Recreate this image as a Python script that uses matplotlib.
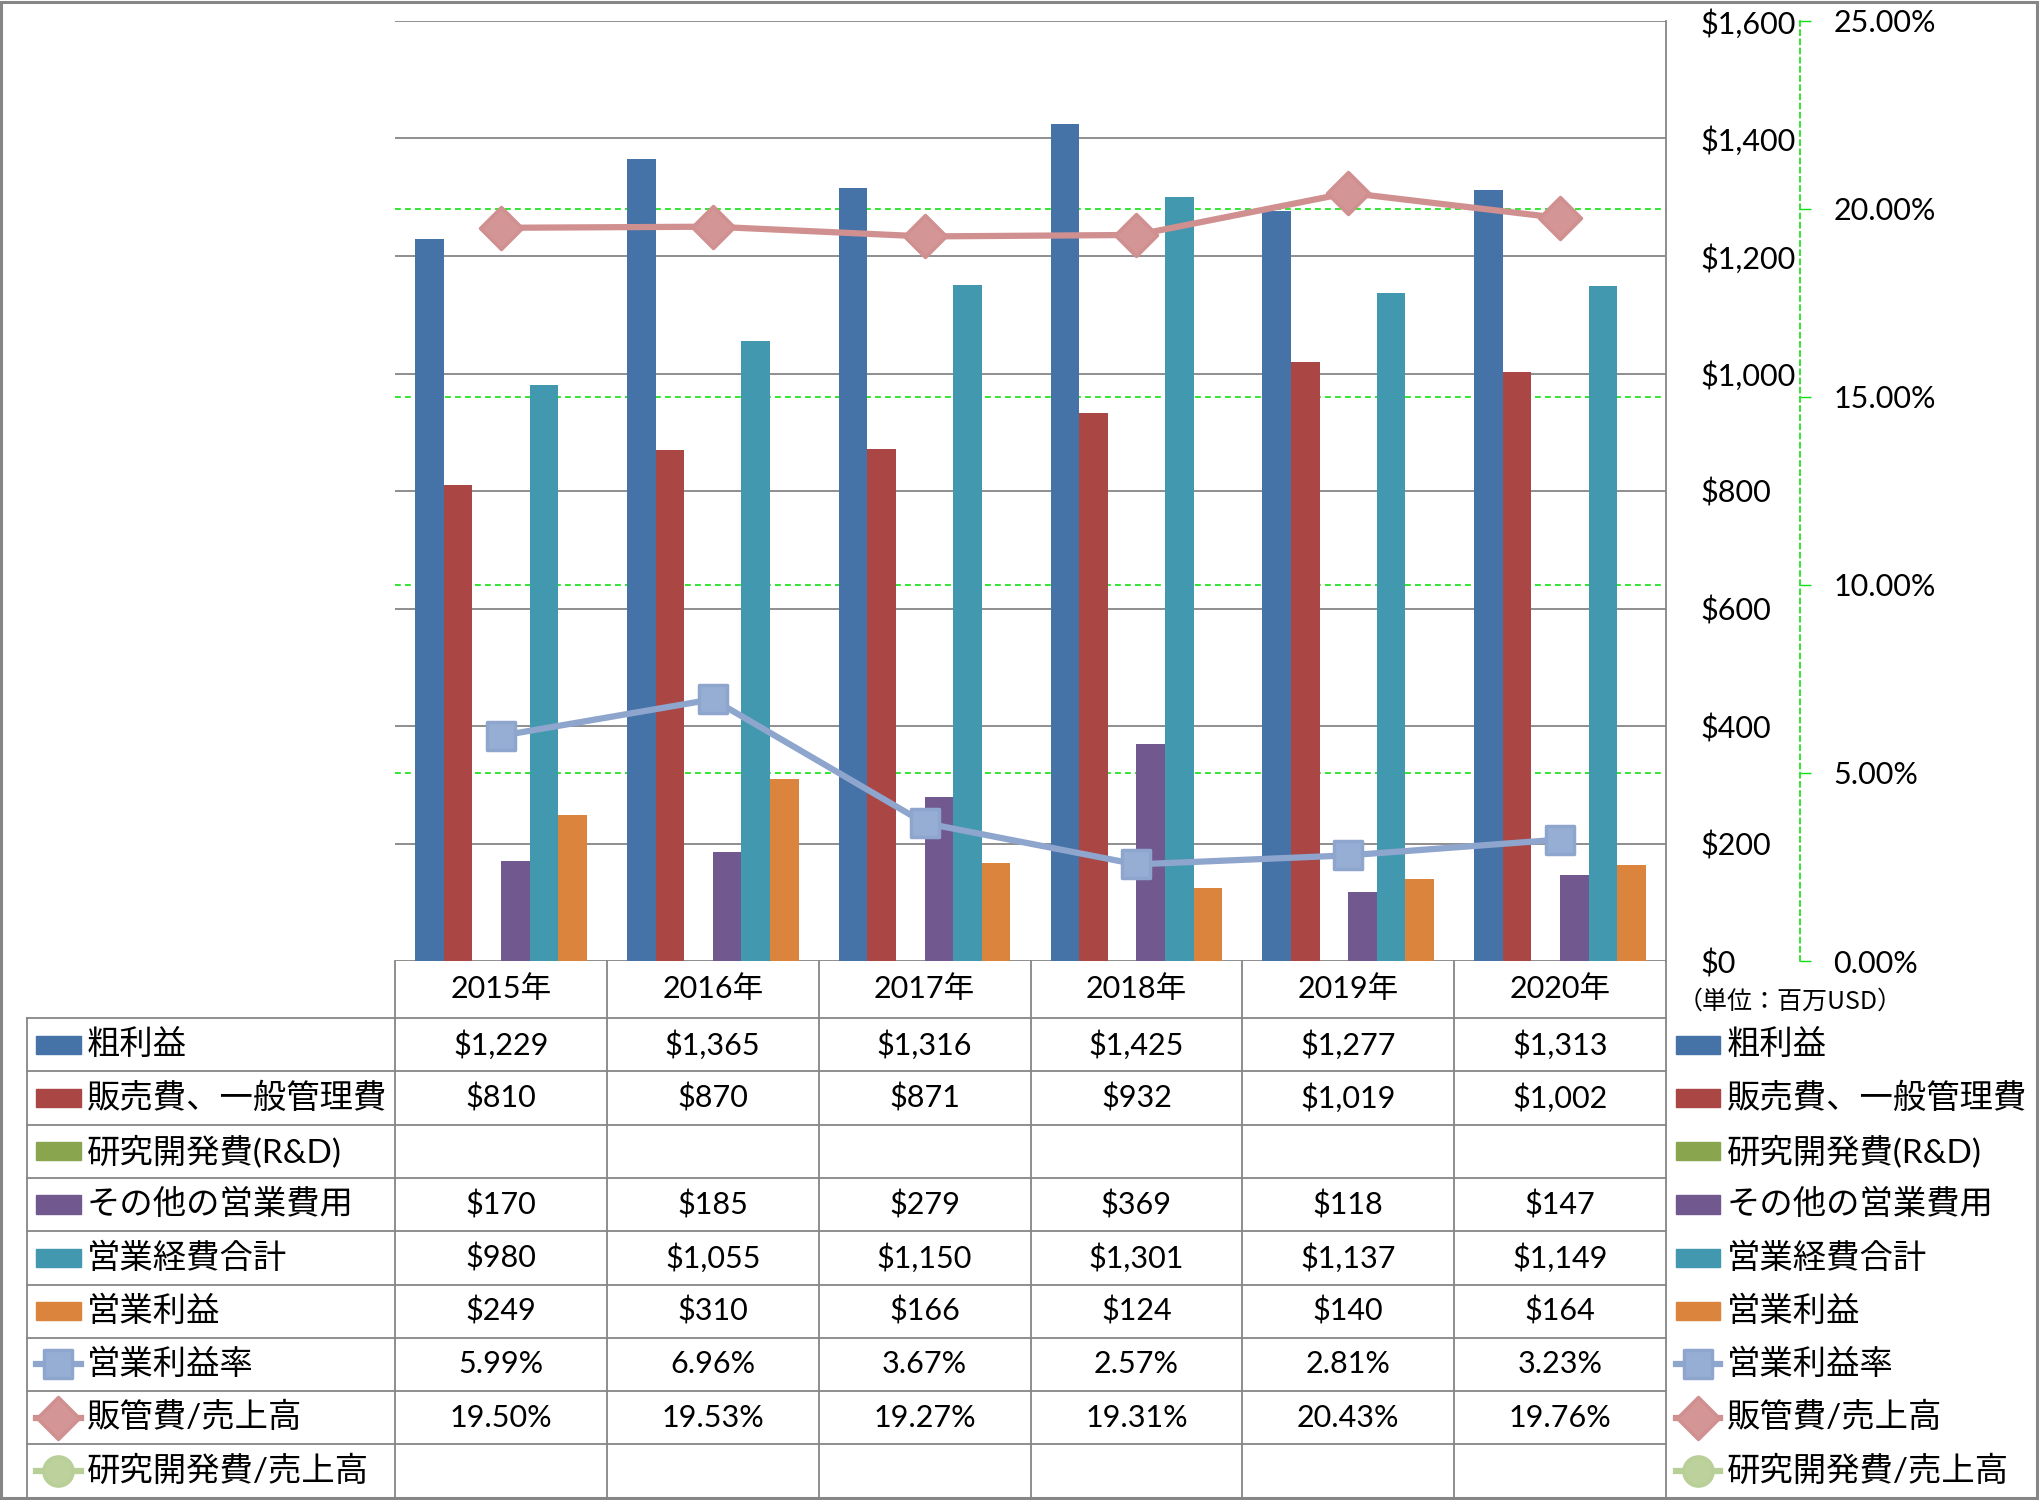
import matplotlib
matplotlib.use("Agg")
import matplotlib.pyplot as plt
from matplotlib.patches import Rectangle
from matplotlib.markers import MarkerStyle
from matplotlib.transforms import blended_transform_factory
import numpy as np

plt.rcParams['font.family'] = ['Lato', 'Noto Sans CJK JP']

# data (百万USD)
years = ['2015年', '2016年', '2017年', '2018年', '2019年', '2020年']
gross_profit = [1229, 1365, 1316, 1425, 1277, 1313]
sga = [810, 870, 871, 932, 1019, 1002]
rnd = [None, None, None, None, None, None]
other_opex = [170, 185, 279, 369, 118, 147]
total_opex = [980, 1055, 1150, 1301, 1137, 1149]
op_income = [249, 310, 166, 124, 140, 164]
op_margin = [5.99, 6.96, 3.67, 2.57, 2.81, 3.23]
sga_ratio = [19.50, 19.53, 19.27, 19.31, 20.43, 19.76]
rnd_ratio = [None, None, None, None, None, None]

bar_names = ['粗利益', '販売費、一般管理費', '研究開発費(R&D)', 'その他の営業費用', '営業経費合計', '営業利益']
line_names = ['営業利益率', '販管費/売上高', '研究開発費/売上高']
usd_ticks = [0, 200, 400, 600, 800, 1000, 1200, 1400, 1600]
usd_labels = ['$0', '$200', '$400', '$600', '$800', '$1,000', '$1,200', '$1,400', '$1,600']
pct_ticks = [0, 5, 10, 15, 20, 25]
pct_labels = ['0.00%', '5.00%', '10.00%', '15.00%', '20.00%', '25.00%']
unit_note = '（単位：百万USD）'

bar_colors = ['#4572A7', '#AA4643', '#89A54E', '#71588F', '#4198AF', '#DB843D']
line_colors = ['#8EA5CD', '#D09090', '#B9CF98']
line_fills = ['#97AED4', '#D39595', '#BCD19C']
line_markers = ['s', 'D', 'o']
grid_gray = '#868686'
green = '#11E011'

W, H = 2039, 1500
L, R, T, B = 395, 1666, 21, 961
fig = plt.figure(figsize=(W / 100, H / 100), dpi=100)

ax = fig.add_axes([L / W, 1 - B / H, (R - L) / W, (B - T) / H])
ax2 = ax.twinx()

idx = np.arange(len(years))
bw = 0.135
bar_series = [gross_profit, sga, rnd, other_opex, total_opex, op_income]
for k, vals in enumerate(bar_series):
    if all(v is None for v in vals):
        continue
    ax.bar(idx + (k - 2.5) * bw, vals, width=bw, color=bar_colors[k], zorder=2)

ax.set_xlim(-0.5, 5.5)
ax.set_ylim(0, 1600)
ax.set_yticks(usd_ticks, usd_labels)
ax.set_xticks([])
ax.yaxis.tick_right()
ax.tick_params(axis='y', length=0, pad=24.5, labelsize=22)
ax.grid(axis='y', color=grid_gray, lw=1.3)
ax.set_axisbelow(True)
for s in ['left', 'top', 'bottom']:
    ax.spines[s].set_visible(False)
ax.spines['right'].set_color(grid_gray)
ax.spines['right'].set_linewidth(1.3)

# secondary axis grid (green dashed) behind the bars
tr = blended_transform_factory(ax.transAxes, ax2.transData)
for p in pct_ticks[1:-1]:
    ax.plot([0, 1], [p, p], transform=tr, color=green, lw=1.2,
            dashes=(3.5, 2.5), zorder=1)

ax2.set_ylim(0, 25)
ax2.set_yticks(pct_ticks, pct_labels)
ax2.tick_params(axis='y', length=8, width=1, color=green, pad=16, labelsize=22)
for s in ['left', 'top', 'bottom']:
    ax2.spines[s].set_visible(False)
ax2.spines['right'].set_position(('outward', 96.5))
ax2.spines['right'].set_color(green)
ax2.spines['right'].set_linewidth(1.2)
ax2.spines['right'].set_linestyle((0, (3, 2.5)))

line_series = [op_margin, sga_ratio, rnd_ratio]
for k, vals in enumerate(line_series):
    if all(v is None for v in vals):
        continue
    ms = 20 if line_markers[k] == 's' else 21
    ax2.plot(idx, vals, color=line_colors[k], lw=4.5,
             marker=MarkerStyle(line_markers[k], joinstyle='round'), ms=ms,
             mfc=line_fills[k], mec=line_colors[k], mew=2.5, zorder=3)

# data table below the plot (y in row units, header row a bit taller)
row_h = 53.3
head = 57 / row_h
tax = fig.add_axes([L / W, 0, (R - L) / W, (H - B) / H])
tax.set_xlim(-0.5, 5.5)
tax.set_ylim((H - B) / row_h, 0)
tax.axis('off')
x_left = -0.5 - (L - 27) / 211.8
n_rows = 9

for r in range(n_rows + 1):
    tax.plot([x_left, 5.5], [head + r, head + r], color=grid_gray, lw=1.3, clip_on=False)
for c in np.arange(-0.5, 6.0, 1.0):
    tax.plot([c, c], [0, head + n_rows], color=grid_gray, lw=1.3, clip_on=False)
tax.plot([x_left, x_left], [head, head + n_rows], color=grid_gray, lw=1.3, clip_on=False)

for i, y in enumerate(years):
    tax.text(i, head / 2, y, ha='center', va='center', fontsize=22)

rows = bar_series + line_series
names = bar_names + line_names
colors = bar_colors + line_colors
for r, (name, vals) in enumerate(zip(names, rows)):
    yc = head + r + 0.5
    is_line = r >= len(bar_names)
    for i, v in enumerate(vals):
        if v is None:
            continue
        s = f'{v:.2f}%' if is_line else f'${v:,}'
        tax.text(i, yc, s, ha='center', va='center', fontsize=22)
    # left and right legend keys
    for x0, x1, xt in [(-0.5 - (L - 36) / 211.8, -0.5 - (L - 81) / 211.8, -0.5 - (L - 87) / 211.8),
                       (5.5 + 10 / 211.8, 5.5 + 54 / 211.8, 5.5 + 61 / 211.8)]:
        if is_line:
            k = r - len(bar_names)
            tax.plot([x0, x1], [yc, yc], color=colors[r], lw=4.5, clip_on=False)
            ms = 20 if line_markers[k] == 's' else 21
            tax.plot([(x0 + x1) / 2], [yc], marker=MarkerStyle(line_markers[k], joinstyle='round'),
                     ms=ms, mfc=line_fills[k], mec=colors[r], mew=2.5, clip_on=False)
        else:
            tax.add_patch(Rectangle((x0, yc - 0.17), x1 - x0, 0.34, color=colors[r], clip_on=False))
        tax.text(xt, yc, name, ha='left', va='center', fontsize=24)

tax.text(5.5 + 12 / 211.8, 0.76, unit_note, ha='left', va='center', fontsize=18,
         family='Noto Sans CJK JP')

fig.add_artist(Rectangle((1 / W, 2 / H), 2036 / W, 1496 / H, transform=fig.transFigure,
                         fill=False, ec=grid_gray, lw=2.2))

fig.savefig('out.png', dpi=100)
